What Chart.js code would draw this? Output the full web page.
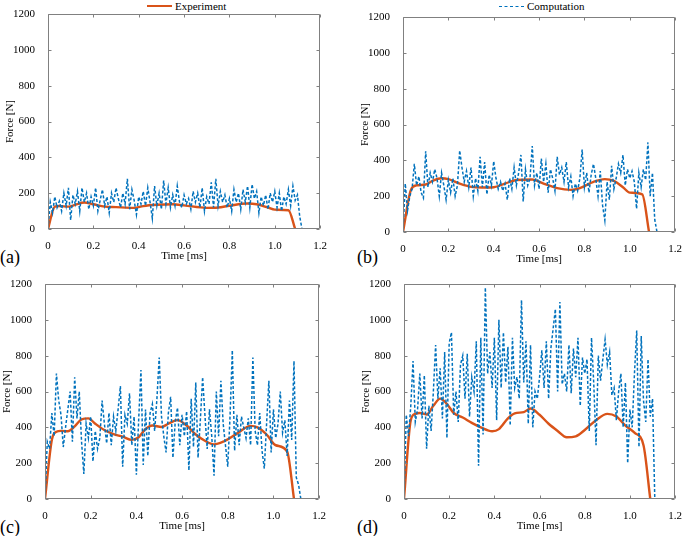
<!DOCTYPE html>
<html>
<head>
<meta charset="utf-8">
<script src="https://cdn.jsdelivr.net/npm/chart.js@4"></script>
<style>
  body { margin: 0; background: #fff; }
  #fig { position: relative; width: 685px; height: 536px; overflow: hidden; font-family: "Liberation Serif", "Times New Roman", serif; }
  .panel { position: absolute; }
  .tag { position: absolute; font-size: 18px; line-height: 18px; color: #000; }
  .leg { position: absolute; font-size: 11px; line-height: 12px; color: #000; white-space: nowrap; }
  .sw { display: inline-block; width: 25px; vertical-align: middle; margin-right: 3px; position: relative; top: -1px; }
  .sw.exp { border-top: 2.5px solid #D95319; }
  .sw.comp { border-top: 1.5px dashed #0072BD; }
</style>
</head>
<body>
<div id="fig">
  <div class="leg" style="left:147px;top:0px"><span class="sw exp"></span>Experiment</div>
  <div class="leg" style="left:499px;top:0px"><span class="sw comp"></span>Computation</div>
  <div class="tag" style="left:0px;top:248px">(a)</div>
  <div class="tag" style="left:357px;top:248px">(b)</div>
  <div class="tag" style="left:0px;top:518px">(c)</div>
  <div class="tag" style="left:357px;top:518px">(d)</div>
</div>
<script>
// time base of the computed force (ms)
const timeMs = [
  0, 0.01, 0.02, 0.03, 0.04, 0.05, 0.06, 0.07, 0.08, 0.09,
  0.1, 0.11, 0.12, 0.13, 0.14, 0.15, 0.16, 0.17, 0.18, 0.19,
  0.2, 0.21, 0.22, 0.23, 0.24, 0.25, 0.26, 0.27, 0.28, 0.29,
  0.3, 0.31, 0.32, 0.33, 0.34, 0.35, 0.36, 0.37, 0.38, 0.39,
  0.4, 0.41, 0.42, 0.43, 0.44, 0.45, 0.46, 0.47, 0.48, 0.49,
  0.5, 0.51, 0.52, 0.53, 0.54, 0.55, 0.56, 0.57, 0.58, 0.59,
  0.6, 0.61, 0.62, 0.63, 0.64, 0.65, 0.66, 0.67, 0.68, 0.69,
  0.7, 0.71, 0.72, 0.73, 0.74, 0.75, 0.76, 0.77, 0.78, 0.79,
  0.8, 0.81, 0.82, 0.83, 0.84, 0.85, 0.86, 0.87, 0.88, 0.89,
  0.9, 0.91, 0.92, 0.93, 0.94, 0.95, 0.96, 0.97, 0.98, 0.99,
  1.0, 1.01, 1.02, 1.03, 1.04, 1.05, 1.06, 1.07, 1.08, 1.09,
  1.1, 1.11, 1.12
];

// Computation (N)
const compA = [
  0, 150, 90, 180, 120, 155, 100, 200, 130, 230,
  50, 190, 140, 210, 100, 230, 150, 200, 110, 180,
  130, 230, 100, 160, 220, 130, 180, 90, 200, 150,
  230, 170, 120, 200, 140, 280, 110, 220, 160, 80,
  180, 140, 210, 130, 230, 150, 60, 240, 130, 200,
  110, 270, 140, 230, 120, 190, 130, 240, 150, 120,
  190, 140, 170, 110, 210, 150, 200, 120, 230, 100,
  180, 140, 260, 120, 280, 130, 210, 150, 190, 120,
  170, 100, 220, 150, 200, 110, 220, 150, 240, 120,
  250, 170, 210, 90, 180, 130, 190, 110, 200, 150,
  210, 120, 200, 100, 180, 140, 220, 130, 240, 160,
  190, 70, 0
];
const compB = [
  0, 270, 120, 200, 240, 380, 260, 310, 220, 190,
  450, 250, 330, 280, 350, 300, 200, 330, 260, 180,
  290, 220, 300, 200, 260, 455, 360, 280, 340, 250,
  360, 200, 300, 230, 420, 250, 390, 210, 320, 260,
  395, 300, 240, 280, 230, 270, 180, 300, 240, 360,
  260, 330, 430, 170, 350, 260, 300, 480, 260, 330,
  240, 410, 280, 380, 220, 350, 300, 230, 420, 320,
  360, 280, 390, 250, 310, 200, 270, 230, 300, 460,
  250, 330, 220, 320, 380, 300, 200, 340, 150, 65,
  280, 180, 370, 240, 300, 380, 330, 430, 260, 350,
  300, 340, 280, 130, 330, 250, 350, 290, 500, 200,
  330, 70, 0
];
const compC = [
  0, 320, 280, 480, 350, 700, 550, 470, 290, 400,
  500, 600, 320, 680, 450, 600, 320, 140, 420, 340,
  460, 210, 380, 280, 340, 550, 420, 310, 480, 300,
  460, 380, 500, 630, 180, 470, 420, 590, 300, 460,
  135, 440, 720, 190, 500, 240, 480, 530, 380, 560,
  790, 460, 350, 260, 480, 570, 230, 430, 510, 300,
  470, 350, 490, 160, 560, 290, 650, 230, 440, 680,
  470, 280, 500, 350, 130, 600, 350, 660, 420, 300,
  180, 460, 830, 270, 470, 300, 460, 400, 340, 450,
  300, 790, 380, 300, 480, 270, 170, 420, 660, 260,
  500, 340, 420, 600, 370, 440, 240, 550, 330, 770,
  120, 80, 0
];
const compD = [
  0, 470, 350, 520, 770, 430, 500, 700, 450, 690,
  280, 520, 380, 600, 860, 560, 730, 450, 820, 340,
  870, 930, 470, 600, 430, 750, 800, 560, 810, 460,
  680, 600, 880, 185, 900, 360, 1180, 700, 820, 620,
  900, 440, 1000, 620, 930, 650, 850, 410, 900, 620,
  680, 560, 1110, 650, 880, 420, 860, 400, 600, 560,
  680, 830, 620, 880, 560, 840, 950, 1060, 600, 1100,
  640, 700, 600, 860, 590, 840, 680, 900, 520, 790,
  700, 780, 380, 900, 640, 300, 800, 660, 780, 890,
  750, 820, 580, 620, 440, 600, 700, 400, 650, 200,
  500, 400, 700, 940, 290, 910, 550, 430, 780, 460,
  560, 0, null
];

// Experiment (ms, N)
const expTimeA = [0, 0.03, 0.05, 0.09, 0.12, 0.16, 0.2, 0.25, 0.3, 0.38, 0.42, 0.48, 0.55, 0.6, 0.7, 0.75, 0.8, 0.88, 0.92, 0.97, 1.0, 1.06, 1.09];
const expA     = [0, 125, 128, 125, 135, 148, 138, 125, 122, 118, 128, 135, 138, 132, 118, 120, 130, 142, 138, 120, 108, 105, 0];
const expTimeB = [0, 0.035, 0.06, 0.1, 0.13, 0.17, 0.2, 0.25, 0.3, 0.35, 0.4, 0.45, 0.5, 0.57, 0.62, 0.68, 0.74, 0.78, 0.84, 0.89, 0.93, 0.97, 1.0, 1.055, 1.085];
const expB     = [0, 235, 260, 265, 285, 300, 295, 270, 252, 248, 250, 270, 290, 293, 270, 245, 235, 245, 280, 295, 285, 250, 220, 210, 0];
const expTimeC = [0, 0.03, 0.05, 0.07, 0.1, 0.13, 0.16, 0.19, 0.22, 0.26, 0.3, 0.34, 0.38, 0.41, 0.44, 0.47, 0.51, 0.54, 0.58, 0.62, 0.66, 0.7, 0.74, 0.78, 0.84, 0.9, 0.93, 0.97, 1.01, 1.06, 1.09];
const expC     = [0, 330, 375, 380, 378, 405, 445, 450, 420, 385, 362, 348, 330, 345, 390, 410, 402, 420, 440, 410, 360, 325, 305, 320, 365, 408, 400, 360, 300, 265, 0];
const expTimeD = [0, 0.03, 0.05, 0.07, 0.1, 0.13, 0.16, 0.19, 0.22, 0.26, 0.3, 0.34, 0.39, 0.42, 0.46, 0.49, 0.53, 0.56, 0.6, 0.64, 0.68, 0.72, 0.76, 0.8, 0.85, 0.9, 0.94, 0.98, 1.02, 1.06, 1.09];
const expD     = [0, 440, 475, 480, 472, 520, 560, 530, 480, 455, 425, 400, 378, 390, 450, 478, 485, 505, 470, 420, 380, 345, 350, 385, 440, 475, 460, 410, 370, 300, 0];

const yTicks = [0, 200, 400, 600, 800, 1000, 1200];
const xTicks = [0, 0.2, 0.4, 0.6, 0.8, 1.0, 1.2];

// where each plot box sits in the figure
const panels = [
  { comp: compA, expT: expTimeA, exp: expA, box: [48, 14, 323, 229] },
  { comp: compB, expT: expTimeB, exp: expB, box: [403, 17, 678, 232] },
  { comp: compC, expT: expTimeC, exp: expC, box: [45, 284, 322, 499] },
  { comp: compD, expT: expTimeD, exp: expD, box: [404, 284, 678, 499] }
];

const FONT = "'Liberation Serif', 'Times New Roman', serif";
Chart.defaults.font.family = FONT;
const YW = 48, XH = 36, RP = 7;

// MATLAB style box with inward ticks
const boxTicks = {
  id: 'boxTicks',
  afterDraw(chart) {
    const { ctx, chartArea: a, scales } = chart;
    const L = Math.round(a.left) + 0.5, R = Math.round(a.right) - 0.5;
    const T = Math.round(a.top) + 0.5, B = Math.round(a.bottom) - 0.5;
    ctx.save();
    ctx.strokeStyle = '#808080';
    ctx.lineWidth = 1;
    ctx.beginPath();
    ctx.rect(L, T, R - L, B - T);
    xTicks.forEach(v => {
      const px = Math.round(scales.x.getPixelForValue(v)) + 0.5;
      ctx.moveTo(px, B); ctx.lineTo(px, B - 3);
      ctx.moveTo(px, T); ctx.lineTo(px, T + 3);
    });
    yTicks.forEach(v => {
      const py = Math.round(scales.y.getPixelForValue(v)) + 0.5;
      ctx.moveTo(L, py); ctx.lineTo(L + 3, py);
      ctx.moveTo(R, py); ctx.lineTo(R - 3, py);
    });
    ctx.stroke();
    ctx.restore();
  }
};

function makePanel(p) {
  const [pl, pt, pr, pb] = p.box;
  const top = pt < 270 ? 0 : 270;
  const div = document.createElement('div');
  div.className = 'panel';
  div.style.left = (pl - YW) + 'px';
  div.style.top = top + 'px';
  div.style.width = (pr + RP - (pl - YW)) + 'px';
  div.style.height = (pb + XH - top) + 'px';
  const canvas = document.createElement('canvas');
  div.appendChild(canvas);
  document.getElementById('fig').appendChild(div);

  new Chart(canvas.getContext('2d'), {
    type: 'line',
    data: {
      datasets: [
        {
          label: 'Computation',
          data: timeMs.map((t, i) => ({ x: t, y: p.comp[i] })),
          borderColor: '#0072BD',
          borderWidth: 1.5,
          borderDash: [3, 2],
          pointRadius: 0,
          tension: 0,
          spanGaps: false
        },
        {
          label: 'Experiment',
          data: p.expT.map((t, i) => ({ x: t, y: p.exp[i] })),
          borderColor: '#D95319',
          borderWidth: 2.4,
          pointRadius: 0,
          cubicInterpolationMode: 'monotone'
        }
      ]
    },
    options: {
      responsive: true,
      maintainAspectRatio: false,
      animation: false,
      layout: { padding: { top: pt - top, right: RP, left: 0, bottom: 0 } },
      plugins: { legend: { display: false }, tooltip: { enabled: false } },
      scales: {
        x: {
          type: 'linear',
          min: 0, max: 1.2,
          afterBuildTicks: s => { s.ticks = xTicks.map(v => ({ value: v })); },
          afterFit: s => { s.height = XH; },
          grid: { display: false },
          border: { display: false },
          ticks: {
            padding: 3,
            color: '#000',
            font: { family: FONT, size: 11 },
            maxRotation: 0,
            callback: v => v === 0 ? '0' : v.toFixed(1)
          },
          title: { display: true, text: 'Time [ms]', color: '#000', font: { family: FONT, size: 11 }, padding: { top: 0, bottom: 2 } }
        },
        y: {
          min: 0, max: 1200,
          afterBuildTicks: s => { s.ticks = yTicks.map(v => ({ value: v })); },
          afterFit: s => { s.width = YW; },
          grid: { display: false },
          border: { display: false },
          ticks: { padding: 5, color: '#000', font: { family: FONT, size: 11 }, callback: v => String(v) },
          title: { display: true, text: 'Force [N]', color: '#000', font: { family: FONT, size: 11 }, padding: { top: 4, bottom: 0 } }
        }
      }
    },
    plugins: [boxTicks]
  });
}

panels.forEach(makePanel);
</script>
</body>
</html>
